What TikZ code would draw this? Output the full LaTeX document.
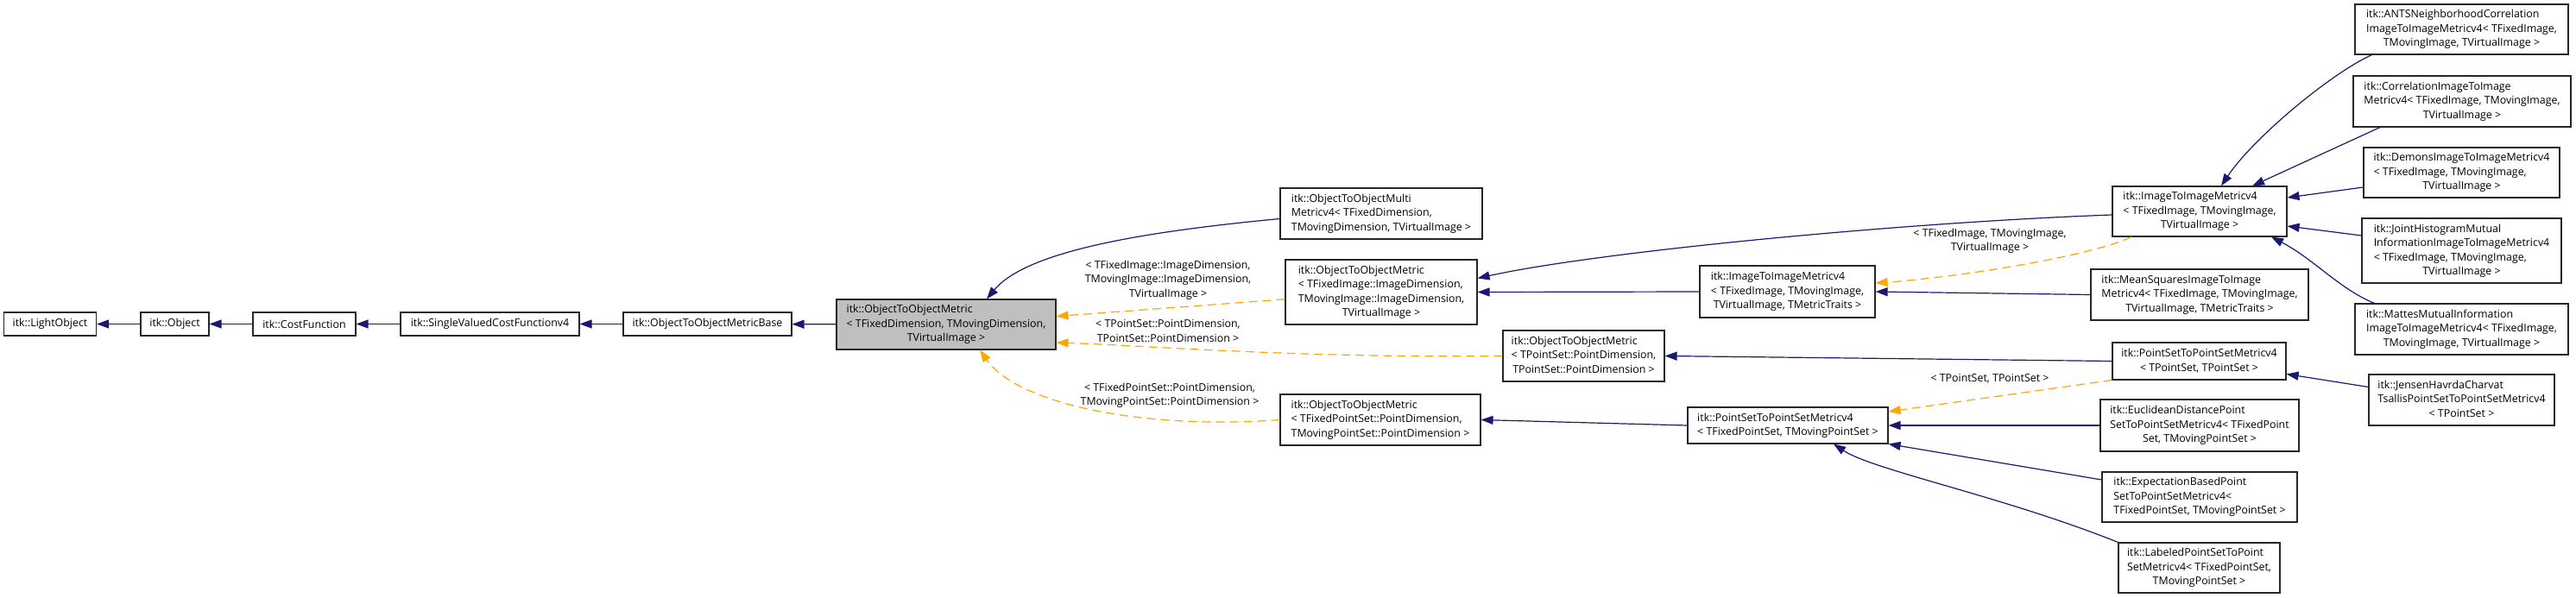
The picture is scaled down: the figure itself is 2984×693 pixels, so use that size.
\documentclass[tikz,border=0pt]{standalone}
\usepackage{fontspec}
\setmainfont{Open Sans}
\usetikzlibrary{arrows.meta}
\definecolor{navyline}{HTML}{191970}
\definecolor{tplorange}{HTML}{FFA500}
\newcommand{\dxfont}{\fontsize{12.4bp}{16.5bp}\selectfont}
\newcommand{\tbox}[1]{\begin{tabular}{@{}l@{}}#1\end{tabular}}
\newcommand{\ctr}[1]{\multicolumn{1}{@{}c@{}}{#1}}
\begin{document}
\begin{tikzpicture}[
    x=1bp, y=-1bp,
    cls/.style={rectangle, draw=black!85, line width=1.1bp, minimum height=27bp, inner sep=2bp, font=\dxfont},
    hit/.style={cls, fill=black!25},
    inh/.style={->, color=navyline, line width=1.2bp, >={Triangle[length=14bp,width=10bp]}},
    tpl/.style={inh, color=tplorange, dash pattern=on 10bp off 6bp},
    lbl/.style={align=center, font=\dxfont}
]
\useasboundingbox (0,0) rectangle (2984,693);
% base chain
\node[cls, minimum width=107bp] (lightobj) at (58,375.5) {itk::LightObject};
\node[cls, minimum width=79bp] (object) at (202.5,375.5) {itk::Object};
\node[cls, minimum width=119bp] (costfn) at (352.5,375.5) {itk::CostFunction};
\node[cls, minimum width=207bp] (svcf) at (567.5,375.5) {itk::SingleValuedCostFunctionv4};
\node[cls, minimum width=195bp] (o2ombase) at (819.5,375.5) {itk::ObjectToObjectMetricBase};
\node[hit, minimum width=254bp, minimum height=58bp] (o2om) at (1096,376) {\tbox{itk::ObjectToObjectMetric\\< TFixedDimension, TMovingDimension,\\\ctr{TVirtualImage >}}};

% second column
\node[cls, minimum width=234bp, minimum height=59bp] (multi) at (1600,247.5) {\tbox{itk::ObjectToObjectMulti\\Metricv4< TFixedDimension,\\\ctr{TMovingDimension, TVirtualImage >}}};
\node[cls, minimum width=222bp, minimum height=75bp] (o2omimg) at (1600,338.5) {\tbox{itk::ObjectToObjectMetric\\< TFixedImage::ImageDimension,\\TMovingImage::ImageDimension,\\\ctr{TVirtualImage >}}};
\node[cls, minimum width=187bp, minimum height=59bp] (o2omps) at (1834.5,412.5) {\tbox{itk::ObjectToObjectMetric\\< TPointSet::PointDimension,\\\ctr{TPointSet::PointDimension >}}};
\node[cls, minimum width=232bp, minimum height=59bp] (o2omfps) at (1599,486.5) {\tbox{itk::ObjectToObjectMetric\\< TFixedPointSet::PointDimension,\\\ctr{TMovingPointSet::PointDimension >}}};

% third column
\node[cls, minimum width=203bp, minimum height=60bp] (i2imtraits) at (2070.5,338) {\tbox{itk::ImageToImageMetricv4\\< TFixedImage, TMovingImage,\\\ctr{TVirtualImage, TMetricTraits >}}};
\node[cls, minimum width=232bp, minimum height=42bp] (p2psm) at (2071,493) {\tbox{itk::PointSetToPointSetMetricv4\\\ctr{< TFixedPointSet, TMovingPointSet >}}};

% fourth column
\node[cls, minimum width=202bp, minimum height=58bp] (i2im) at (2548,245) {\tbox{itk::ImageToImageMetricv4\\< TFixedImage, TMovingImage,\\\ctr{TVirtualImage >}}};
\node[cls, minimum width=252bp, minimum height=59bp] (meansq) at (2548,341.5) {\tbox{itk::MeanSquaresImageToImage\\Metricv4< TFixedImage, TMovingImage,\\\ctr{TVirtualImage, TMetricTraits >}}};
\node[cls, minimum width=201bp, minimum height=43bp] (p2psmps) at (2547.5,418.5) {\tbox{itk::PointSetToPointSetMetricv4\\\ctr{< TPointSet, TPointSet >}}};
\node[cls, minimum width=230bp, minimum height=60bp] (euclid) at (2548,493) {\tbox{itk::EuclideanDistancePoint\\SetToPointSetMetricv4< TFixedPoint\\\ctr{Set, TMovingPointSet >}}};
\node[cls, minimum width=226bp, minimum height=58bp] (expect) at (2548,576) {\tbox{itk::ExpectationBasedPoint\\SetToPointSetMetricv4<\\\ctr{TFixedPointSet, TMovingPointSet >}}};
\node[cls, minimum width=187bp, minimum height=58bp] (labeled) at (2547.5,658) {\tbox{itk::LabeledPointSetToPoint\\SetMetricv4< TFixedPointSet,\\\ctr{TMovingPointSet >}}};

% last column
\node[cls, minimum width=247bp, minimum height=58bp] (ants) at (2851.5,34) {\tbox{itk::ANTSNeighborhoodCorrelation\\ImageToImageMetricv4< TFixedImage,\\\ctr{TMovingImage, TVirtualImage >}}};
\node[cls, minimum width=252bp, minimum height=59bp] (corr) at (2852,117.5) {\tbox{itk::CorrelationImageToImage\\Metricv4< TFixedImage, TMovingImage,\\\ctr{TVirtualImage >}}};
\node[cls, minimum width=227bp, minimum height=58bp] (demons) at (2851.5,200) {\tbox{itk::DemonsImageToImageMetricv4\\< TFixedImage, TMovingImage,\\\ctr{TVirtualImage >}}};
\node[cls, minimum width=231bp, minimum height=75bp] (joint) at (2851.5,290.5) {\tbox{itk::JointHistogramMutual\\InformationImageToImageMetricv4\\< TFixedImage, TMovingImage,\\\ctr{TVirtualImage >}}};
\node[cls, minimum width=247bp, minimum height=59bp] (mattes) at (2851.5,381.5) {\tbox{itk::MattesMutualInformation\\ImageToImageMetricv4< TFixedImage,\\\ctr{TMovingImage, TVirtualImage >}}};
\node[cls, minimum width=215bp, minimum height=59bp] (jensen) at (2851.5,463.5) {\tbox{itk::JensenHavrdaCharvat\\TsallisPointSetToPointSetMetricv4\\\ctr{< TPointSet >}}};

% template labels
\node[lbl] (lblimg) at (1353,324.5) {< TFixedImage::ImageDimension,\\TMovingImage::ImageDimension,\\TVirtualImage >};
\node[lbl] (lblps) at (1353,383.5) {< TPointSet::PointDimension,\\TPointSet::PointDimension >};
\node[lbl] (lblfps) at (1355,458.5) {< TFixedPointSet::PointDimension,\\TMovingPointSet::PointDimension >};
\node[lbl] (lbli2im) at (2305,279.5) {< TFixedImage, TMovingImage,\\TVirtualImage >};
\node[lbl] (lblp2ps) at (2305,439) {< TPointSet, TPointSet >};

% inheritance
\draw[inh] (object) -- (lightobj);
\draw[inh] (costfn) -- (object);
\draw[inh] (svcf) -- (costfn);
\draw[inh] (o2ombase) -- (svcf);
\draw[inh] (o2om) -- (o2ombase);
\draw[inh] ([yshift=-6bp]multi.west) .. controls (1330,268) and (1190,290) .. ([xshift=47bp]o2om.north);
\draw[inh] ([yshift=-4bp]i2im.west) .. controls (2200,258) and (1850,292) .. ([yshift=16bp]o2omimg.east);
\draw[inh] (i2imtraits.west) -- (o2omimg.east);
\draw[inh] (meansq.west) -- (i2imtraits.east);
\draw[inh] (p2psmps.west) -- (o2omps.east);
\draw[inh] (p2psm.west) -- (o2omfps.east);
\draw[inh] (euclid.west) -- (p2psm.east);
\draw[inh] ([yshift=20bp]expect.west) -- (p2psm.south east);
\draw[inh] (labeled.north west) .. controls (2320,575) and (2170,545) .. ([xshift=53bp]p2psm.south);
\draw[inh] ([xshift=-104bp]ants.south) .. controls (2700,85) and (2610,160) .. ([xshift=25bp]i2im.north);
\draw[inh] ([xshift=-95bp]corr.south) -- ([xshift=61bp]i2im.north);
\draw[inh] ([yshift=-17bp]demons.west) -- ([yshift=16bp]i2im.east);
\draw[inh] ([yshift=17.5bp]joint.west) -- ([yshift=-17bp]i2im.east);
\draw[inh] ([xshift=-101bp]mattes.north) .. controls (2710,335) and (2680,300) .. ([xshift=83bp]i2im.south);
\draw[inh] ([yshift=15bp]jensen.west) -- ([yshift=-15bp]p2psmps.east);

% template instances
\draw[tpl] (o2omimg) -- (o2om);
\draw[tpl] (o2omps.west) .. controls (1500,415) and (1320,400) .. ([yshift=-21bp]o2om.east);
\draw[tpl] (o2omfps.west) .. controls (1330,498) and (1180,470) .. ([xshift=39bp]o2om.south);
\draw[tpl] ([xshift=-79bp]i2im.south) .. controls (2420,298) and (2260,322) .. ([yshift=10bp]i2imtraits.east);
\draw[tpl] (p2psmps.south west) -- ([yshift=16bp]p2psm.east);
\end{tikzpicture}
\end{document}
